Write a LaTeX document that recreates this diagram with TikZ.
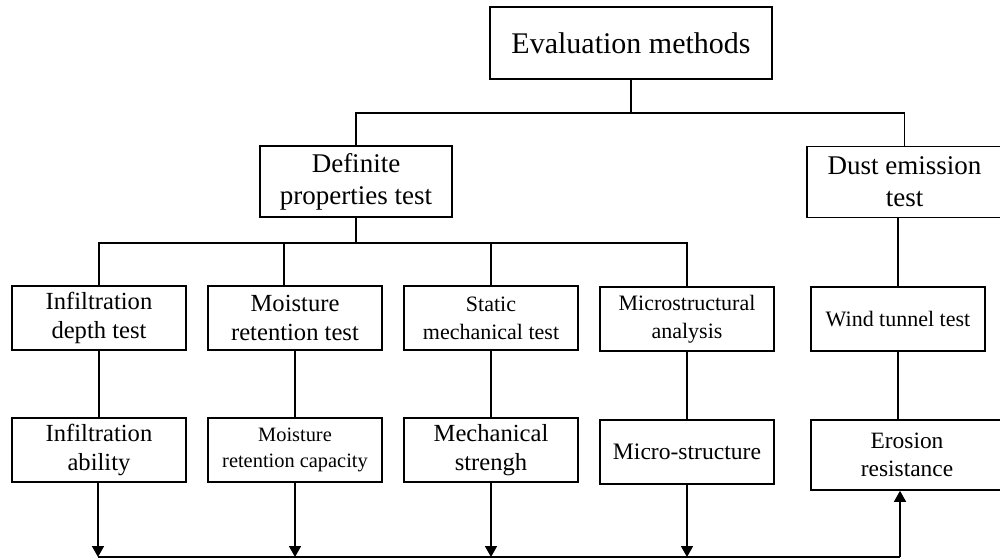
\documentclass[tikz,border=0pt]{standalone}
\usepackage{fontspec}
\setmainfont{Liberation Serif}
\usetikzlibrary{arrows.meta}
\begin{document}
\begin{tikzpicture}[x=0.5pt, y=-0.5pt, line width=0.8pt,
                            box/.style={rectangle, draw=black, fill=white, align=center, inner sep=0pt},
                            wide/.style={box, minimum width=97.5pt, minimum height=35.5pt},
                            cell/.style={box, minimum width=86.75pt, minimum height=32pt},
                            arr/.style={-{Triangle[width=6pt, length=5.5pt]}}]
                            \useasboundingbox (0, 0) rectangle (1000, 559);

                            \node (eval)[box, minimum width=141pt, minimum height=36pt, font=\fontsize{15}{18}\selectfont] at (631, 43) {Evaluation methods};

                            \node (def)[wide, minimum width=96pt, font=\fontsize{13.5}{16}\selectfont] at (356, 181.5) {Definite\\properties test};
                            \node (dust)[wide, font=\fontsize{13.5}{16}\selectfont] at (904.5, 182) {Dust emission\\test};

                            \node (inf)[cell, font=\fontsize{12.3}{14.6}\selectfont] at (99, 318) {Infiltration\\depth test};
                            \node (moist)[cell, font=\fontsize{12.3}{14.6}\selectfont] at (295, 318) {Moisture\\retention test};
                            \node (stat)[cell, font=\fontsize{11}{14}\selectfont] at (491, 318) {Static\\mechanical test};
                            \node (micro)[cell, font=\fontsize{11}{14}\selectfont] at (687, 319) {Microstructural\\analysis};
                            \node (wind)[cell, font=\fontsize{11}{14}\selectfont] at (898, 319) {Wind tunnel test};

                            \node (infab)[cell, font=\fontsize{12.3}{14.6}\selectfont] at (99, 450) {Infiltration\\ability};
                            \node (moistcap)[cell, font=\fontsize{10.2}{13}\selectfont] at (295, 450) {Moisture\\retention capacity};
                            \node (strength)[cell, font=\fontsize{12.3}{14.6}\selectfont] at (491, 450) {Mechanical\\strengh};
                            \node (microst)[cell, font=\fontsize{11.8}{14}\selectfont] at (687, 452) {Micro-structure};
                            \node (eros)[wide, minimum width=96pt, minimum height=35pt, font=\fontsize{11.7}{14}\selectfont] at (907, 455) {Erosion\\resistance};

                            \coordinate (top) at (631, 113);
                            \coordinate (mid) at (356, 243);
                            \coordinate (bl) at (98, 557);
                            \coordinate (br) at (900, 557);

                            \draw (eval) -- (top);
                            \draw (def.north) |- (top) -| (dust.north);
                            \draw (def) -- (mid);
                            \draw (inf.north) |- (mid) -| (micro.north);
                            \draw (mid) -| ([xshift=-5.5pt]moist.north);
                            \draw (mid) -| (stat.north);
                            \draw (dust.south -| wind) -- (wind);

                            \draw (inf) -- (infab);
                            \draw (moist) -- (moistcap);
                            \draw (stat) -- (strength);
                            \draw (micro) -- (microst);
                            \draw (wind) -- (wind |- eros.north);

                            \draw (bl) -- (br);
                            \draw [arr] (infab.south -| bl) -- (bl);
                            \draw [arr] (moistcap.south) -- (moistcap.south |- bl);
                            \draw [arr] (strength.south) -- (strength.south |- bl);
                            \draw [arr] (microst.south) -- (microst.south |- bl);
                            \draw [arr] (br) -- (br |- eros.south);
                        \end{tikzpicture}
\end{document}
